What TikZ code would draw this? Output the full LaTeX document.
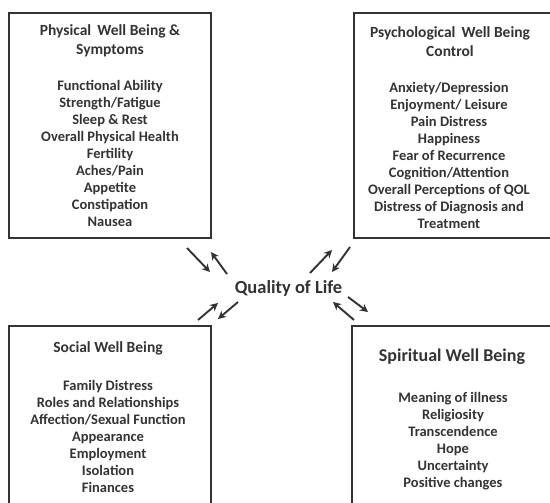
\documentclass[tikz,border=0pt]{standalone}
\usepackage{fontspec}
\setmainfont{Carlito}
\usetikzlibrary{arrows.meta}
\definecolor{ink}{HTML}{333333}
\begin{document}
\begin{tikzpicture}[x=1pt,y=-1pt,
  boxline/.style={draw=ink,line width=2pt},
  hdr/.style={text=ink,font=\bfseries\fontsize{15.5}{19.5}\selectfont,align=center,inner sep=0pt,anchor=north},
  items/.style={text=ink,font=\bfseries\fontsize{14.5}{17}\selectfont,align=center,inner sep=0pt,anchor=north},
  qarrow/.style={draw=ink,line width=1.9pt,-{Stealth[length=8pt,width=8pt]}}]
\useasboundingbox (0,0) rectangle (550,503);
\clip (0,0) rectangle (550,503);
\fill[white] (0,0) rectangle (550,503);
% boxes
\draw[boxline] (9,13) rectangle (211,238);
\draw[boxline] (354,13) rectangle (556,238);
\draw[boxline] (9,326) rectangle (211,520);
\draw[boxline] (352,326) rectangle (556,520);
% top-left
\node[hdr] (h1) at (110,24) {Physical\,\ Well Being \&\\Symptoms};
\node[items] (i1) at (110,80) {Functional Ability\\Strength/Fatigue\\Sleep \& Rest\\Overall Physical Health\\Fertility\\Aches/Pain\\Appetite\\Constipation\\Nausea};
% top-right
\node[hdr] (h2) at (450,26) {Psychological\,\ Well Being\\Control};
\node[items] (i2) at (449,82) {Anxiety/Depression\\Enjoyment/ Leisure\\Pain Distress\\Happiness\\Fear of Recurrence\\Cognition/Attention\\Overall Perceptions of QOL\\Distress of Diagnosis and\\Treatment};
% bottom-left
\node[hdr] (h3) at (108,341) {Social Well Being};
\node[items] (i3) at (108,380) {Family Distress\\Roles and Relationships\\Affection/Sexual Function\\Appearance\\Employment\\Isolation\\Finances};
% bottom-right
\node[hdr,font=\bfseries\fontsize{18}{21}\selectfont] (h4) at (452,349) {Spiritual Well Being};
\node[items] (i4) at (453,392) {Meaning of illness\\Religiosity\\Transcendence\\Hope\\Uncertainty\\Positive changes};
% centre
\node[text=ink,font=\bfseries\fontsize{18.5}{21}\selectfont,inner sep=0pt] (q) at (288.5,288) {Quality of Life};
% arrow ends
\coordinate (a1s) at (187,248); \coordinate (a1e) at (210,272);
\coordinate (a2s) at (227,274); \coordinate (a2e) at (211,252);
\coordinate (a3s) at (310,273); \coordinate (a3e) at (332,250);
\coordinate (a4s) at (350,247); \coordinate (a4e) at (332,272);
\coordinate (a5s) at (198,320); \coordinate (a5e) at (218,303);
\coordinate (a6s) at (238,302); \coordinate (a6e) at (218,319);
\coordinate (a7s) at (348,297); \coordinate (a7e) at (368,312);
\coordinate (a8s) at (354,320); \coordinate (a8e) at (333,302);
\foreach \k in {1,...,8} \draw[qarrow] (a\k s) -- (a\k e);
\end{tikzpicture}
\end{document}
